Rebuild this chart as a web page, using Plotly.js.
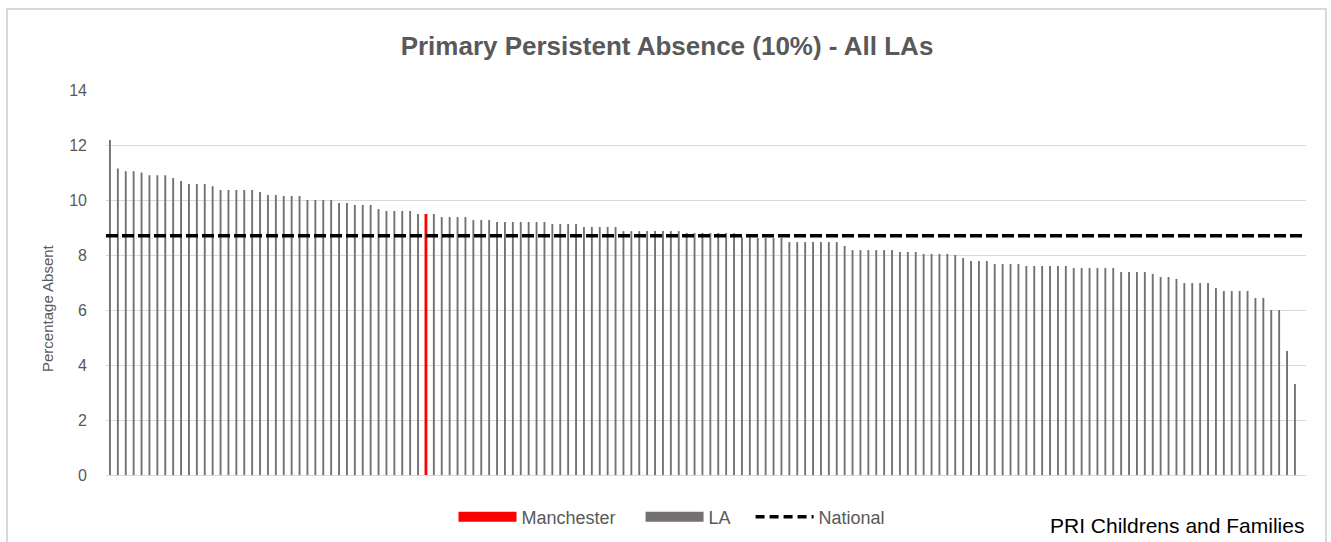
<!DOCTYPE html>
<html>
<head>
<meta charset="utf-8">
<script src="https://cdn.plot.ly/plotly-3.0.1.min.js"></script>
<style>
  html, body { margin: 0; padding: 0; background: #ffffff; }
  #wrap { position: relative; width: 1331px; height: 542px; overflow: hidden; }
  #frame { position: absolute; left: 6px; top: 8px; width: 1321px; height: 540px;
           border: 2px solid #d9d9d9; box-sizing: border-box; pointer-events: none; }
  #chart { position: absolute; left: 0; top: 0; width: 1331px; height: 542px; }
</style>
</head>
<body>
<div id="wrap">
  <div id="frame"></div>
  <div id="chart"></div>
</div>
<script>
// ---- data ----
// Primary persistent absence (10%) by Local Authority, sorted high to low
const laValues = [
  12.18, 11.15, 11.05, 11.05, 11.0, 10.9, 10.9, 10.9, 10.8, 10.69,
  10.58, 10.58, 10.58, 10.5, 10.36, 10.36, 10.36, 10.36, 10.36, 10.29,
  10.18, 10.18, 10.15, 10.15, 10.15, 10.0, 10.0, 10.0, 10.0, 9.89,
  9.89, 9.82, 9.82, 9.82, 9.67, 9.6, 9.6, 9.6, 9.6, 9.49,
  9.49, 9.49, 9.38, 9.38, 9.38, 9.38, 9.27, 9.27, 9.27, 9.2,
  9.2, 9.2, 9.2, 9.2, 9.2, 9.2, 9.13, 9.13, 9.13, 9.13,
  9.02, 9.02, 9.02, 9.02, 9.02, 8.87, 8.87, 8.87, 8.87, 8.87,
  8.87, 8.87, 8.87, 8.8, 8.8, 8.8, 8.8, 8.8, 8.8, 8.79,
  8.65, 8.65, 8.62, 8.62, 8.62, 8.62, 8.47, 8.47, 8.47, 8.47,
  8.47, 8.47, 8.47, 8.33, 8.18, 8.18, 8.18, 8.18, 8.18, 8.18,
  8.11, 8.11, 8.11, 8.04, 8.04, 8.04, 8.04, 8.0, 7.89, 7.78,
  7.78, 7.78, 7.67, 7.67, 7.67, 7.67, 7.6, 7.6, 7.6, 7.6,
  7.6, 7.6, 7.53, 7.53, 7.53, 7.53, 7.53, 7.53, 7.38, 7.38,
  7.38, 7.38, 7.31, 7.2, 7.2, 7.13, 6.98, 6.98, 6.98, 6.98,
  6.8, 6.69, 6.69, 6.69, 6.69, 6.44, 6.44, 6.0, 6.0, 4.51,
  3.31
];
const manchesterRank = 41;        // 1-based position of Manchester in the sorted list
const nationalValue = 8.7;        // national average
const yTickValues = [0, 2, 4, 6, 8, 10, 12, 14];
const legendNames = ["Manchester", "LA", "National"];
const titleText = "Primary Persistent Absence (10%) - All LAs";
const yTitleText = "Percentage Absent";
const sourceText = "PRI Childrens and Families";

// ---- build traces ----
const xIdx = laValues.map((v, i) => i);
const mIdx = manchesterRank - 1;
const laY = laValues.map((v, i) => (i === mIdx ? null : v));
const manY = laValues.map((v, i) => (i === mIdx ? v : null));

const grey = "#767171";
const red = "#ff0000";
const txt = "#595959";
const font = "Liberation Sans, Arial, sans-serif";
const pad = n => "\u00a0".repeat(n);

const traces = [
  { type: "bar", x: xIdx, y: laY, width: 0.24, marker: { color: grey },
    showlegend: false, hoverinfo: "y" },
  { type: "bar", x: xIdx, y: manY, width: 0.36, marker: { color: red },
    showlegend: false, hoverinfo: "y" },
  { type: "scatter", mode: "lines", x: [-0.5, laValues.length + 0.4],
    y: [nationalValue, nationalValue], line: { color: "#000000", width: 3.5, dash: "12px,4px" },
    showlegend: false, hoverinfo: "y" },
  // legend entries
  { type: "scatter", mode: "lines", x: [null], y: [null], name: legendNames[0] + pad(4),
    line: { color: red, width: 12 }, showlegend: true },
  { type: "scatter", mode: "lines", x: [null], y: [null], name: legendNames[1] + pad(3),
    line: { color: grey, width: 12 }, showlegend: true },
  { type: "scatter", mode: "lines", x: [null], y: [null], name: legendNames[2],
    line: { color: "#000000", width: 3.5, dash: "9px,5px" }, showlegend: true }
];

const layout = {
  width: 1331, height: 542,
  paper_bgcolor: "rgba(0,0,0,0)", plot_bgcolor: "rgba(0,0,0,0)",
  margin: { l: 106, r: 25, t: 90, b: 67, pad: 0 },
  barmode: "overlay",
  font: { family: font, color: txt, size: 14 },
  title: { text: titleText, xref: "container", x: 667 / 1331, xanchor: "center",
           yref: "container", y: 1 - 46 / 542, yanchor: "middle",
           font: { family: font, size: 26, color: txt, weight: "bold" } },
  xaxis: { range: [-0.5, laValues.length + 0.4], showticklabels: false, showgrid: false,
           zeroline: false, showline: false, ticks: "", fixedrange: true },
  yaxis: { range: [0, 14], tickvals: yTickValues, showgrid: true, gridcolor: "#d9d9d9", gridwidth: 1,
           zeroline: true, zerolinecolor: "#d9d9d9", zerolinewidth: 1, showline: false, ticks: "",
           ticklabelstandoff: 18, tickfont: { family: font, size: 16, color: txt } },
  legend: { orientation: "h", xref: "container", x: 672 / 1331, xanchor: "center",
            yref: "container", y: 1 - 517 / 542, yanchor: "middle",
            itemwidth: 58, tracegroupgap: 0, font: { family: font, size: 18, color: txt },
            bgcolor: "rgba(0,0,0,0)" },
  showlegend: true,
  annotations: [
    { text: yTitleText, textangle: -90, xref: "paper", yref: "paper",
      x: (47 - 106) / 1200, xanchor: "center", y: (475 - 308) / 385, yanchor: "middle",
      showarrow: false, font: { family: font, size: 15, color: txt } },
    { text: sourceText, xref: "paper", yref: "paper", x: 1.0, xanchor: "right",
      y: (475 - 525) / 385, yanchor: "middle", showarrow: false,
      font: { family: font, size: 21, color: "#000000" } }
  ]
};

Plotly.newPlot("chart", traces, layout, { displayModeBar: false, staticPlot: true });
</script>
</body>
</html>
